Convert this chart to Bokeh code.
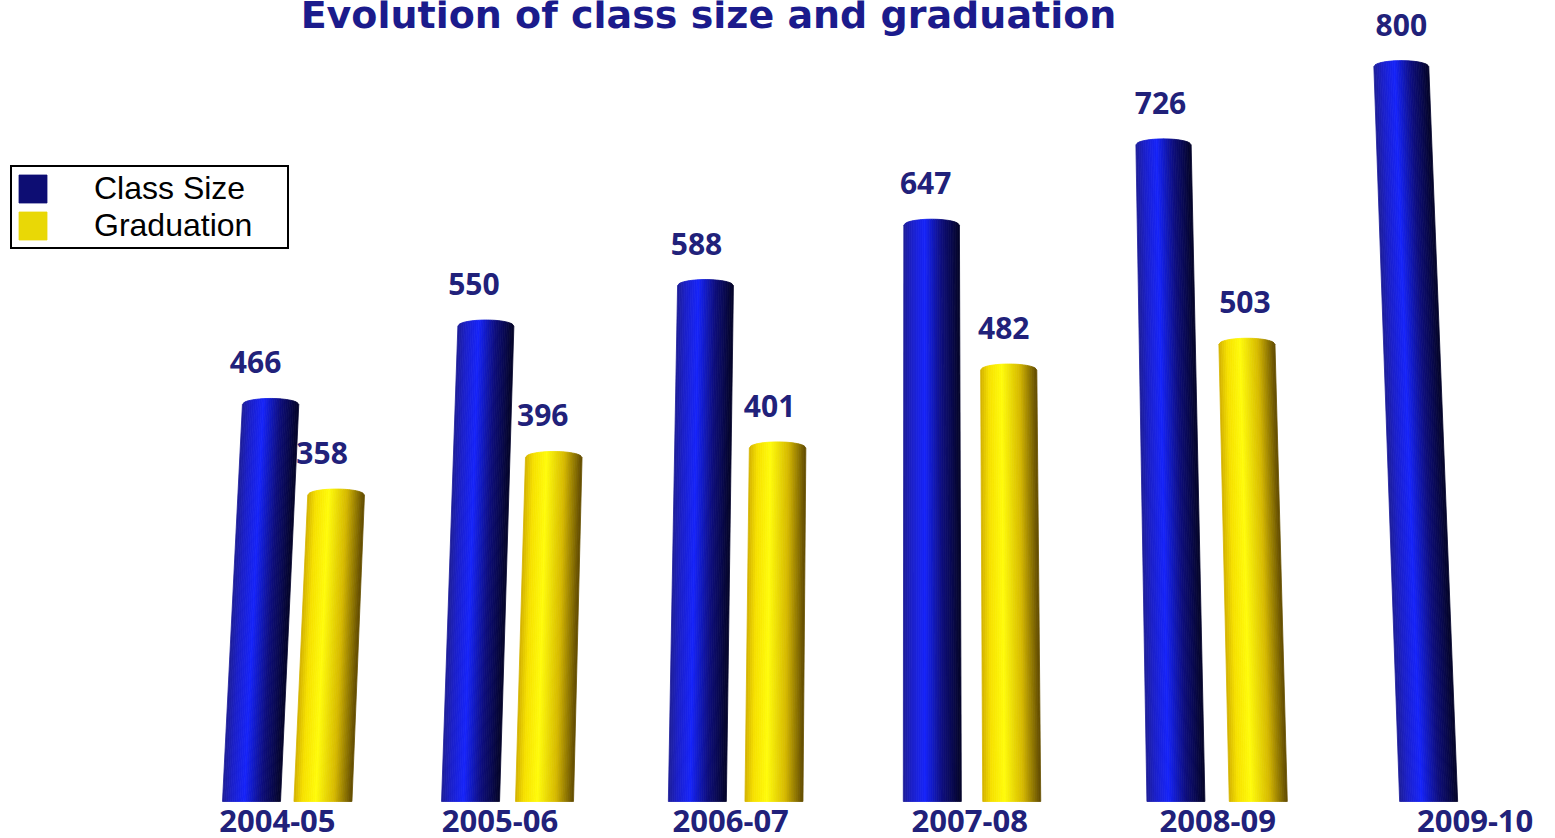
import numpy as np
from bokeh.plotting import figure
from bokeh.models import Range1d, ColumnDataSource, Legend, LegendItem, Label
from bokeh.embed import file_html
from bokeh.resources import INLINE
from bokeh.core.properties import value

# ---------------- data ----------------
seasons = ["2004-05", "2005-06", "2006-07", "2007-08", "2008-09", "2009-10"]
class_size = [466, 550, 588, 647, 726, 800]
graduation = [358, 396, 401, 482, 503, None]
series_names = ["Class Size", "Graduation"]
title_text = "Evolution of class size and graduation"

# ---------------- layout / 3D projection parameters ----------------
W, H = 1555, 838
X0_PX = 251.0        # screen x of first slot
SLOT_PX = 215.3      # px per slot at the front
CX = 0.0171          # horizontal perspective
CY = 0.0145          # vertical perspective
BASE_PX = 801.0      # screen y of bar bottoms
PX_PER_UNIT = 0.852  # px per value unit at the front
VX_PX = 915.0        # vanishing point x (px)
VD_PX = 13800.0      # vanishing point distance above base (px)
BAR_W_PX = 58.0
CAP_PX = 6.0
GRAD_OFF = 0.33
NSTRIP = 30

NAVY = "#21217a"
TITLE_C = "#1b1b8c"

blue_stops = [(0.0, (30, 30, 150)), (0.15, (28, 32, 200)), (0.38, (22, 36, 250)),
              (0.68, (14, 14, 125)), (1.0, (5, 5, 40))]
yellow_stops = [(0.0, (210, 176, 0)), (0.15, (246, 224, 0)), (0.38, (255, 252, 12)),
                (0.70, (214, 184, 0)), (1.0, (96, 74, 0))]


def shade(stops, u):
    for (a, ca), (b, cb) in zip(stops[:-1], stops[1:]):
        if a <= u <= b:
            t = (u - a) / (b - a)
            c = [int(round(ca[j] + (cb[j] - ca[j]) * t)) for j in range(3)]
            return "#%02x%02x%02x" % tuple(c)
    return "#%02x%02x%02x" % stops[-1][1]


def proj_x(X):
    return X / (1 - CX * X)


def proj_y(X, v):
    return v / (1 - CY * X)


def bar_strips(X, v, stops, acc):
    xb = proj_x(X)
    yt = proj_y(X, v)
    h_px = yt * PX_PER_UNIT
    bx_px = X0_PX + SLOT_PX * xb
    tx_px = bx_px + (VX_PX - bx_px) * h_px / VD_PX
    wt_px = BAR_W_PX * (1 - h_px / VD_PX)
    hb = BAR_W_PX / 2 / SLOT_PX
    ht = wt_px / 2 / SLOT_PX
    tx = (tx_px - X0_PX) / SLOT_PX
    cap = CAP_PX / PX_PER_UNIT
    for k in range(NSTRIP):
        u0, u1 = k / NSTRIP, (k + 1) / NSTRIP
        c0 = cap * np.sqrt(max(0.0, 1 - (2 * u0 - 1) ** 2))
        c1 = cap * np.sqrt(max(0.0, 1 - (2 * u1 - 1) ** 2))
        acc["xs"].append([xb - hb + 2 * hb * u0, xb - hb + 2 * hb * u1,
                          tx - ht + 2 * ht * u1, tx - ht + 2 * ht * u0])
        acc["ys"].append([0, 0, yt + c1, yt + c0])
        acc["c"].append(shade(stops, (u0 + u1) / 2))
    acc_v["x"].append(tx)
    acc_v["y"].append(yt)
    acc_v["t"].append(str(v))
    acc_v["off"].append(-15.0 * (1 - X / 5.0))


acc_blue = dict(xs=[], ys=[], c=[])
acc_yel = dict(xs=[], ys=[], c=[])
acc_v = dict(x=[], y=[], t=[], off=[])
for i, v in enumerate(class_size):
    bar_strips(float(i), v, blue_stops, acc_blue)
for i, v in enumerate(graduation):
    if v is not None:
        bar_strips(i + GRAD_OFF, v, yellow_stops, acc_yel)

p = figure(width=W, height=H, output_backend="svg", toolbar_location=None,
           x_range=Range1d(-X0_PX / SLOT_PX, (W - X0_PX) / SLOT_PX),
           y_range=Range1d(-(H - BASE_PX) / PX_PER_UNIT, BASE_PX / PX_PER_UNIT),
           x_axis_location=None, y_axis_location=None,
           min_border=0, min_border_left=0, min_border_right=0,
           min_border_top=0, min_border_bottom=0,
           outline_line_color=None, background_fill_color="white",
           border_fill_color="white")
p.grid.visible = False

rb = p.patches("xs", "ys", source=ColumnDataSource(acc_blue),
               fill_color="c", line_color="c", line_width=0.8)
ry = p.patches("xs", "ys", source=ColumnDataSource(acc_yel),
               fill_color="c", line_color="c", line_width=0.8)

vsrc = ColumnDataSource(acc_v)
p.text("x", "y", text="t", source=vsrc, x_offset="off", y_offset=-42,
       text_align="center", text_baseline="alphabetic",
       text_font=value("Open Sans"), text_font_style="bold",
       text_font_size="30px", text_color=NAVY)

lab_x = [proj_x(i * 1.012 + 0.12) for i in range(len(seasons))]
lsrc = ColumnDataSource(dict(x=lab_x, y=[0] * len(seasons), t=seasons))
p.text("x", "y", text="t", source=lsrc, y_offset=19,
       text_align="center", text_baseline="alphabetic",
       text_font=value("Open Sans"), text_font_style="bold",
       text_font_size="31px", text_color=NAVY)

title = Label(x=708, y=H - 14, x_units="screen", y_units="screen", text=title_text,
              text_align="center", text_baseline="alphabetic",
              text_font="DejaVu Sans", text_font_style="bold",
              text_font_size="38px", text_color=TITLE_C)
p.add_layout(title)

# legend swatches: a dark strip of the blue bars, a mid strip of the yellow bars
idx_blue = int(0.72 * NSTRIP)
idx_yel = int(0.56 * NSTRIP)
legend = Legend(items=[LegendItem(label=series_names[0], renderers=[rb], index=idx_blue),
                       LegendItem(label=series_names[1], renderers=[ry], index=idx_yel)],
                location=(10, H - 249), orientation="vertical",
                border_line_color="black", border_line_width=2, border_line_alpha=1.0,
                background_fill_color="white", background_fill_alpha=1.0,
                padding=3, spacing=0, glyph_width=35, glyph_height=35,
                label_standoff=44, label_width=190, margin=0,
                label_text_font="Liberation Sans", label_text_font_size="32px",
                label_text_color="black", label_text_baseline="middle")
p.add_layout(legend)

open("out.html", "w").write(file_html(p, INLINE))
